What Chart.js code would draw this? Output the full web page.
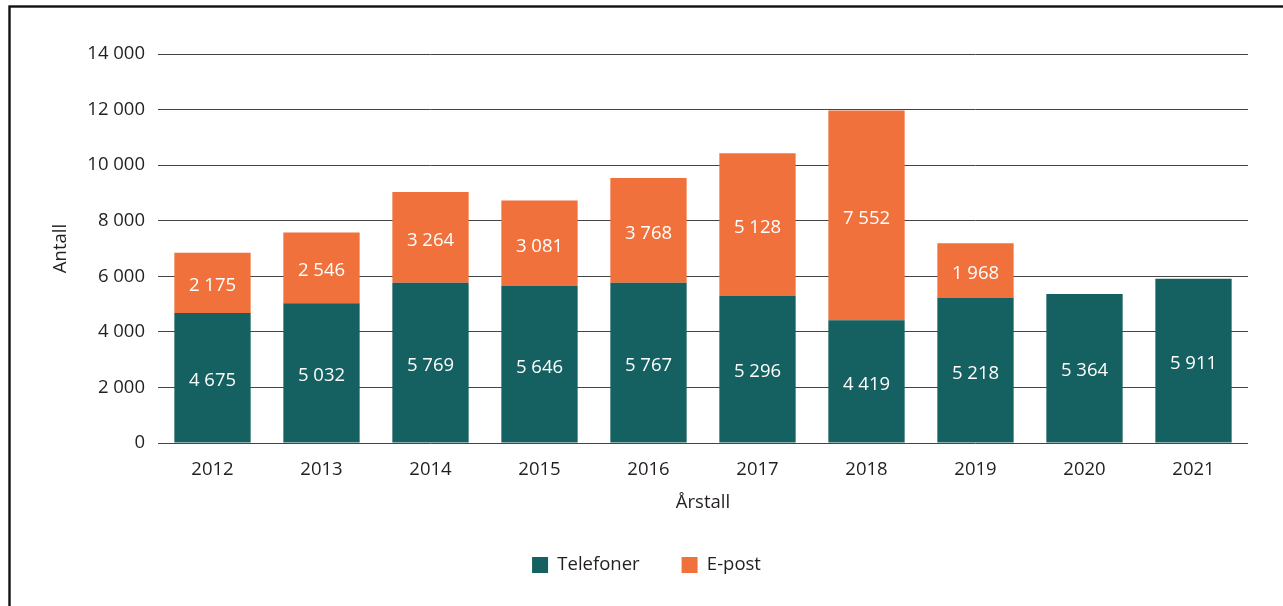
<!DOCTYPE html>
<html>
<head>
<meta charset="utf-8">
<script src="https://cdn.jsdelivr.net/npm/chart.js@4/dist/chart.umd.min.js"></script>
<style>
  html, body { margin: 0; padding: 0; background: #fff; overflow: hidden; }
  canvas { display: block; }
</style>
</head>
<body>
<canvas id="c" width="1283" height="606"></canvas>
<script>
const years = ['2012', '2013', '2014', '2015', '2016', '2017', '2018', '2019', '2020', '2021'];
const telefoner = [4675, 5032, 5769, 5646, 5767, 5296, 4419, 5218, 5364, 5911];
const epost = [2175, 2546, 3264, 3081, 3768, 5128, 7552, 1968, null, null];
const seriesNames = ['Telefoner', 'E-post'];
const yTicks = [0, 2000, 4000, 6000, 8000, 10000, 12000, 14000];

const TEAL = '#156060';
const ORANGE = '#F1713C';
const TEXT = '#231f20';
const FONT_SIZE = 18.5;

function fmt(v) {
  return String(Math.round(v)).replace(/\B(?=(\d{3})+(?!\d))/g, ' ');
}

Chart.defaults.font.family = "'Open Sans', sans-serif";
Chart.defaults.font.size = FONT_SIZE;
Chart.defaults.color = TEXT;

const frame = {
  id: 'frame',
  beforeDraw(chart) {
    const ctx = chart.ctx;
    ctx.save();
    ctx.fillStyle = '#fff';
    ctx.fillRect(0, 0, chart.width, chart.height);
    ctx.strokeStyle = '#111';
    ctx.lineWidth = 2.4;
    ctx.strokeRect(9.5, 6.5, 2000, 2000);
    ctx.restore();
  }
};

const valueLabels = {
  id: 'valueLabels',
  afterDatasetsDraw(chart) {
    const ctx = chart.ctx;
    ctx.save();
    ctx.fillStyle = '#ffffff';
    ctx.font = FONT_SIZE + "px 'Open Sans', sans-serif";
    ctx.textAlign = 'center';
    ctx.textBaseline = 'middle';
    chart.data.datasets.forEach((ds, di) => {
      const meta = chart.getDatasetMeta(di);
      meta.data.forEach((el, i) => {
        const v = ds.data[i];
        if (v == null || v === 0) return;
        const y = (el.y + el.base) / 2 + 3;
        ctx.fillText(fmt(v), el.x, y);
      });
    });
    ctx.restore();
  }
};

new Chart(document.getElementById('c'), {
  type: 'bar',
  data: {
    labels: years,
    datasets: [
      { label: seriesNames[0], data: telefoner, backgroundColor: TEAL, borderWidth: 0 },
      { label: seriesNames[1], data: epost, backgroundColor: ORANGE, borderWidth: 0 }
    ]
  },
  options: {
    responsive: false,
    animation: false,
    devicePixelRatio: 1,
    datasets: { bar: { barPercentage: 0.70, categoryPercentage: 1.0 } },
    layout: { padding: { left: 10, top: 54, right: 0, bottom: 21.75 } },
    scales: {
      x: {
        stacked: true,
        grid: { display: false, drawTicks: false },
        border: { display: false },
        ticks: { color: TEXT, padding: 16, font: { size: FONT_SIZE } },
        title: { display: true, text: 'Årstall', color: TEXT, font: { size: FONT_SIZE }, padding: { top: 4, bottom: 0 } },
        afterFit(s) { s.height = 70.75; s.paddingRight = 35; }
      },
      y: {
        stacked: true,
        min: 0,
        max: 14000,
        afterBuildTicks(s) { s.ticks = yTicks.map(v => ({ value: v })); },
        grid: { color: '#444', lineWidth: 1, drawTicks: false },
        border: { display: false },
        ticks: { color: TEXT, padding: 13, font: { size: FONT_SIZE }, callback: v => fmt(v) },
        title: { display: true, text: 'Antall', color: TEXT, font: { size: FONT_SIZE }, padding: { top: 40, bottom: 4 } },
        afterFit(s) { s.width = 148; }
      }
    },
    plugins: {
      legend: {
        position: 'bottom',
        labels: { boxWidth: 16, boxHeight: 16, padding: 42, color: TEXT, font: { size: FONT_SIZE } }
      },
      tooltip: { enabled: false }
    }
  },
  plugins: [frame, valueLabels]
});
</script>
</body>
</html>
